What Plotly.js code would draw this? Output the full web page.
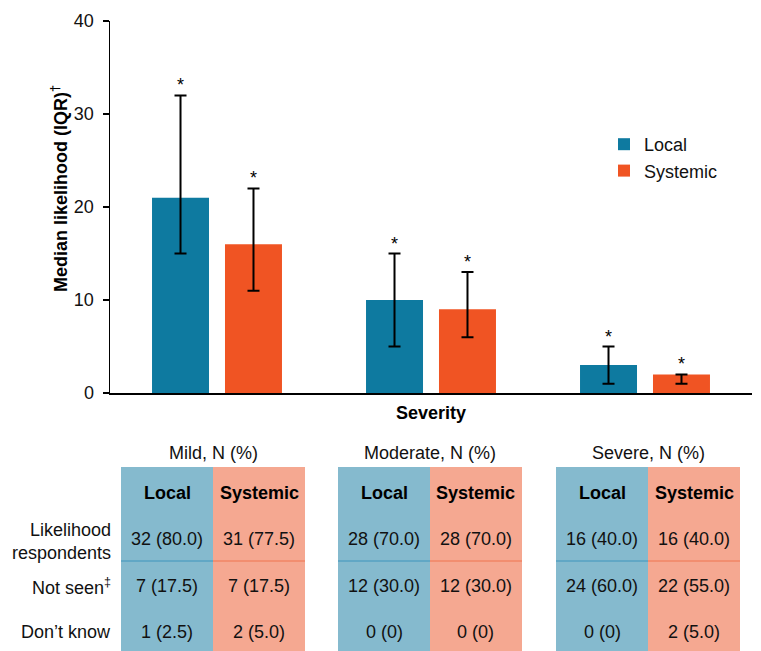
<!DOCTYPE html>
<html>
<head>
<meta charset="utf-8">
<script src="https://cdn.plot.ly/plotly-3.0.1.min.js"></script>
<style>html,body{margin:0;padding:0;background:#fff;}#chart{width:761px;height:651px;}</style>
</head>
<body>
<div id="chart"></div>
<script>
// ---- Data ----
const severities = ['Mild', 'Moderate', 'Severe'];
const localMedian = [21, 10, 3];
const localQ1 = [15, 5, 1];
const localQ3 = [32, 15, 5];
const systemicMedian = [16, 9, 2];
const systemicQ1 = [11, 6, 1];
const systemicQ3 = [22, 13, 2];
const seriesNames = ['Local', 'Systemic'];
const tableHeaders = ['Mild, N (%)', 'Moderate, N (%)', 'Severe, N (%)'];
const rowLabels = ['Likelihood<br>respondents', 'Not seen<sup>‡</sup>', 'Don’t know'];
const localTable = [
  ['32 (80.0)', '7 (17.5)', '1 (2.5)'],
  ['28 (70.0)', '12 (30.0)', '0 (0)'],
  ['16 (40.0)', '24 (60.0)', '0 (0)']
];
const systemicTable = [
  ['31 (77.5)', '7 (17.5)', '2 (5.0)'],
  ['28 (70.0)', '12 (30.0)', '0 (0)'],
  ['16 (40.0)', '22 (55.0)', '2 (5.0)']
];

// ---- Layout helpers (pixel -> paper) ----
const PL = 110, PR = 752, PT = 21, PB = 393;
const px = x => (x - PL) / (PR - PL);
const py = y => (PB - y) / (PB - PT);
const FONT = 'Liberation Sans, Arial, sans-serif';
const FS = 18;
const C_LOCAL = '#0E7AA0', C_SYS = '#F05423';
const C_LOCAL_CELL = '#85BACE', C_SYS_CELL = '#F5A891';
const C_LOCAL_LINE = '#3E94BC', C_SYS_LINE = '#F07550';

const diff = (a, b) => a.map((v, i) => v - b[i]);

const traces = [
  {
    type: 'bar', name: seriesNames[0], x: severities, y: localMedian,
    marker: {color: C_LOCAL, line: {width: 0}},
    error_y: {type: 'data', symmetric: false, array: diff(localQ3, localMedian),
      arrayminus: diff(localMedian, localQ1), color: '#000', thickness: 2, width: 6}
  },
  {
    type: 'bar', name: seriesNames[1], x: severities, y: systemicMedian,
    marker: {color: C_SYS, line: {width: 0}},
    error_y: {type: 'data', symmetric: false, array: diff(systemicQ3, systemicMedian),
      arrayminus: diff(systemicMedian, systemicQ1), color: '#000', thickness: 2, width: 6}
  }
];

const annotations = [];
const shapes = [];

// asterisks above error bars
severities.forEach((s, i) => {
  annotations.push({x: s, y: localQ3[i], xref: 'x', yref: 'y', xshift: -36.5, yshift: -2,
    yanchor: 'bottom', text: '*', showarrow: false, font: {size: 18, color: '#000', family: FONT}});
  annotations.push({x: s, y: systemicQ3[i], xref: 'x', yref: 'y', xshift: 36.5, yshift: -2,
    yanchor: 'bottom', text: '*', showarrow: false, font: {size: 18, color: '#000', family: FONT}});
});

// axis titles
annotations.push({x: px(431), y: py(413), xref: 'paper', yref: 'paper', text: '<b>Severity</b>',
  showarrow: false, font: {size: FS, color: '#000', family: FONT}, xanchor: 'center', yanchor: 'middle'});
annotations.push({x: px(59), y: py(189), xref: 'paper', yref: 'paper', text: '<b>Median likelihood (IQR)<sup>†</sup></b>',
  textangle: -90, showarrow: false, font: {size: FS, color: '#000', family: FONT}, xanchor: 'center', yanchor: 'middle'});

// table
const blockLeft = [121, 338, 556];
const colW = 92;
const tableTop = 467, tableBottom = 651, divY = 561;
const headerY = 453, colHeadY = 493;
const rowY = [539, 586, 632];

severities.forEach((s, i) => {
  const L = blockLeft[i];
  annotations.push({x: px(L + colW), y: py(headerY), xref: 'paper', yref: 'paper', text: tableHeaders[i],
    showarrow: false, font: {size: FS, color: '#111', family: FONT}, xanchor: 'center', yanchor: 'middle'});
  const cols = [
    {x0: L, fill: C_LOCAL_CELL, line: C_LOCAL_LINE, name: seriesNames[0], vals: localTable[i]},
    {x0: L + colW, fill: C_SYS_CELL, line: C_SYS_LINE, name: seriesNames[1], vals: systemicTable[i]}
  ];
  cols.forEach(c => {
    shapes.push({type: 'rect', xref: 'paper', yref: 'paper', x0: px(c.x0), x1: px(c.x0 + colW),
      y0: py(tableBottom + 5), y1: py(tableTop), fillcolor: c.fill, line: {width: 0}, layer: 'below'});
    shapes.push({type: 'line', xref: 'paper', yref: 'paper', x0: px(c.x0), x1: px(c.x0 + colW),
      y0: py(divY), y1: py(divY), line: {color: c.line, width: 1.2}, layer: 'below'});
    annotations.push({x: px(c.x0 + colW / 2), y: py(colHeadY), xref: 'paper', yref: 'paper',
      text: '<b>' + c.name + '</b>', showarrow: false, font: {size: FS, color: '#000', family: FONT},
      xanchor: 'center', yanchor: 'middle'});
    c.vals.forEach((v, r) => {
      annotations.push({x: px(c.x0 + colW / 2), y: py(rowY[r]), xref: 'paper', yref: 'paper',
        text: v, showarrow: false, font: {size: FS, color: '#111', family: FONT},
        xanchor: 'center', yanchor: 'middle'});
    });
  });
});
rowLabels.forEach((t, r) => {
  annotations.push({x: px(113), y: py(rowY[r] + (r === 0 ? 2 : 0)), xref: 'paper', yref: 'paper', text: t,
    showarrow: false, align: 'right', font: {size: FS, color: '#111', family: FONT},
    xanchor: 'right', yanchor: 'middle'});
});

const layout = {
  width: 761, height: 651,
  margin: {l: PL, r: 761 - PR, t: PT, b: 651 - PB, pad: 0},
  paper_bgcolor: '#fff', plot_bgcolor: '#fff',
  font: {family: FONT, size: FS, color: '#111'},
  barmode: 'group', bargap: 0.318, bargroupgap: 0.219,
  showlegend: true,
  legend: {x: px(604), y: py(126), xanchor: 'left', yanchor: 'top', font: {size: FS, color: '#111', family: FONT},
    bgcolor: 'rgba(0,0,0,0)', tracegroupgap: 0},
  xaxis: {showticklabels: false, ticks: '', showline: true, linecolor: '#000', linewidth: 1.5,
    showgrid: false, zeroline: false, fixedrange: true},
  yaxis: {range: [0, 40], dtick: 10, tick0: 0, ticks: 'outside', ticklen: 6, tickwidth: 1.5, tickcolor: '#000',
    ticklabelstandoff: 5,
    showline: true, linecolor: '#000', linewidth: 1.5, showgrid: false, zeroline: false,
    tickfont: {size: FS, color: '#111', family: FONT}, fixedrange: true},
  annotations: annotations,
  shapes: shapes
};

Plotly.newPlot('chart', traces, layout, {displayModeBar: false, staticPlot: true});
</script>
</body>
</html>
